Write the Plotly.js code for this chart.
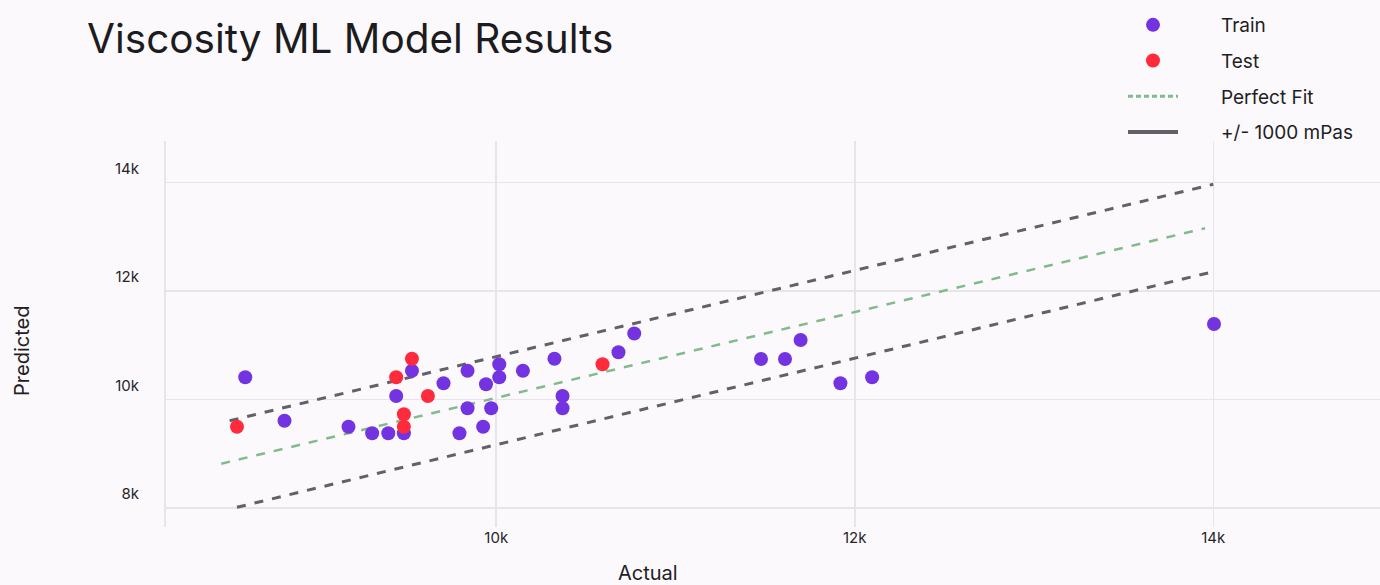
<!DOCTYPE html>
<html>
<head>
<meta charset="utf-8">
<script src="https://cdn.plot.ly/plotly-3.0.1.min.js"></script>
<style>
  html, body { margin: 0; padding: 0; background: #fbf9fc; }
  #chart { width: 1380px; height: 585px; }
</style>
</head>
<body>
<div id="chart"></div>
<script>
// ---- Data ----
const trainActual = [8600, 8819, 9176, 9308, 9398, 9485, 9442, 9530, 9706, 9795,
                     9840, 9840, 9927, 9943, 9972, 10017, 10017, 10149, 10325, 10370,
                     10370, 10682, 10770, 11477, 11611, 11698, 11920, 12097, 14004];
const trainPredicted = [10408, 9609, 9498, 9377, 9377, 9377, 10064, 10530, 10298, 9377,
                        10530, 9837, 9498, 10279, 9837, 10648, 10408, 10530, 10751, 10064,
                        9837, 10869, 11215, 10745, 10745, 11095, 10298, 10408, 11390];

const testActual = [8554, 9442, 9485, 9485, 9530, 9619, 10593];
const testPredicted = [9498, 10408, 9727, 9498, 10751, 10064, 10648];

const perfectFitX = [8466, 13954];
const perfectFitY = [8817, 13153];
const upperBandX = [8513, 14000];
const upperBandY = [9609, 13963];
const lowerBandX = [8554, 14000];
const lowerBandY = [8014, 12353];

const xTickVals = [10000, 12000, 14000];
const xTickText = ["10k", "12k", "14k"];
const yTickVals = [8000, 10000, 12000, 14000];
const yTickText = ["8k", "10k", "12k", "14k"];

const legendNames = ["Train", "Test", "Perfect Fit", "+/- 1000 mPas"];

// ---- Styles ----
const FONT = "Inter, 'Noto Sans', sans-serif";
const PURPLE = "#7333e0";
const RED = "#ff2a3c";
const GREEN = "#80bb8c";
const GRAY = "#626167";
const LEGEND_PAD = "\u2003\u2003"; // visual gap between legend key and label

const traces = [
  { x: upperBandX, y: upperBandY, mode: "lines", showlegend: false, hoverinfo: "skip",
    line: { color: GRAY, width: 3, dash: "dash" } },
  { x: lowerBandX, y: lowerBandY, mode: "lines", showlegend: false, hoverinfo: "skip",
    line: { color: GRAY, width: 3, dash: "dash" } },
  { x: perfectFitX, y: perfectFitY, mode: "lines", showlegend: false, hoverinfo: "skip",
    line: { color: GREEN, width: 2.5, dash: "dash" } },
  { x: trainActual, y: trainPredicted, mode: "markers", name: LEGEND_PAD + legendNames[0], legendgroup: "a",
    marker: { color: PURPLE, size: 14 } },
  { x: testActual, y: testPredicted, mode: "markers", name: LEGEND_PAD + legendNames[1], legendgroup: "b",
    marker: { color: RED, size: 14 } },
  // legend-only entries
  { x: [null], y: [null], mode: "lines", name: LEGEND_PAD + legendNames[2], legendgroup: "c",
    line: { color: GREEN, width: 3, dash: "5px,3px" } },
  { x: [null], y: [null], mode: "lines", name: LEGEND_PAD + legendNames[3], legendgroup: "d",
    line: { color: GRAY, width: 4 } }
];

const layout = {
  width: 1380, height: 585,
  margin: { l: 166, r: 0, t: 141, b: 58, pad: 0, autoexpand: false },
  paper_bgcolor: "#fbf9fc",
  plot_bgcolor: "#fbf9fc",
  font: { family: FONT, color: "#26252b", size: 15 },
  title: {
    text: "Viscosity ML Model Results",
    font: { family: FONT, size: 40.5, color: "#1c1b20" },
    xref: "container", yref: "container",
    x: 87 / 1380, xanchor: "left",
    y: 1 - 39 / 585, yanchor: "middle"
  },
  xaxis: {
    range: [8158, 14930],
    tickvals: xTickVals, ticktext: xTickText,
    showgrid: true, gridcolor: "#e7e5ea", gridwidth: 1.5,
    zeroline: false, showline: false,
    ticks: "", ticklabelstandoff: 0,
    tickfont: { size: 15, color: "#26252b" }
  },
  yaxis: {
    range: [7651, 14760],
    tickvals: yTickVals, ticktext: yTickText,
    showgrid: true, gridcolor: "#e7e5ea", gridwidth: 1.5,
    zeroline: false, showline: true, linecolor: "#e7e5ea", linewidth: 2,
    ticks: "", ticklabelstandoff: 22, ticklabelshift: -14,
    tickfont: { size: 15, color: "#26252b" }
  },
  showlegend: true,
  legend: {
    xref: "container", yref: "container",
    x: 1123 / 1380, xanchor: "left",
    y: 1 - 6 / 585, yanchor: "top",
    bgcolor: "rgba(0,0,0,0)",
    font: { family: FONT, size: 19, color: "#1f1e23" },
    itemwidth: 50,
    traceorder: "grouped",
    tracegroupgap: 8
  },
  annotations: [
    { text: "Actual", xref: "paper", yref: "paper", x: (648 - 166) / 1214, y: (527 - 573) / 386,
      xanchor: "center", yanchor: "middle", showarrow: false,
      font: { family: FONT, size: 20, color: "#1f1e23" } },
    { text: "Predicted", xref: "paper", yref: "paper", x: (22 - 166) / 1214, y: (527 - 351) / 386,
      xanchor: "center", yanchor: "middle", showarrow: false, textangle: -90,
      font: { family: FONT, size: 20, color: "#1f1e23" } }
  ]
};

Plotly.newPlot("chart", traces, layout, { displayModeBar: false, staticPlot: true });
</script>
</body>
</html>
